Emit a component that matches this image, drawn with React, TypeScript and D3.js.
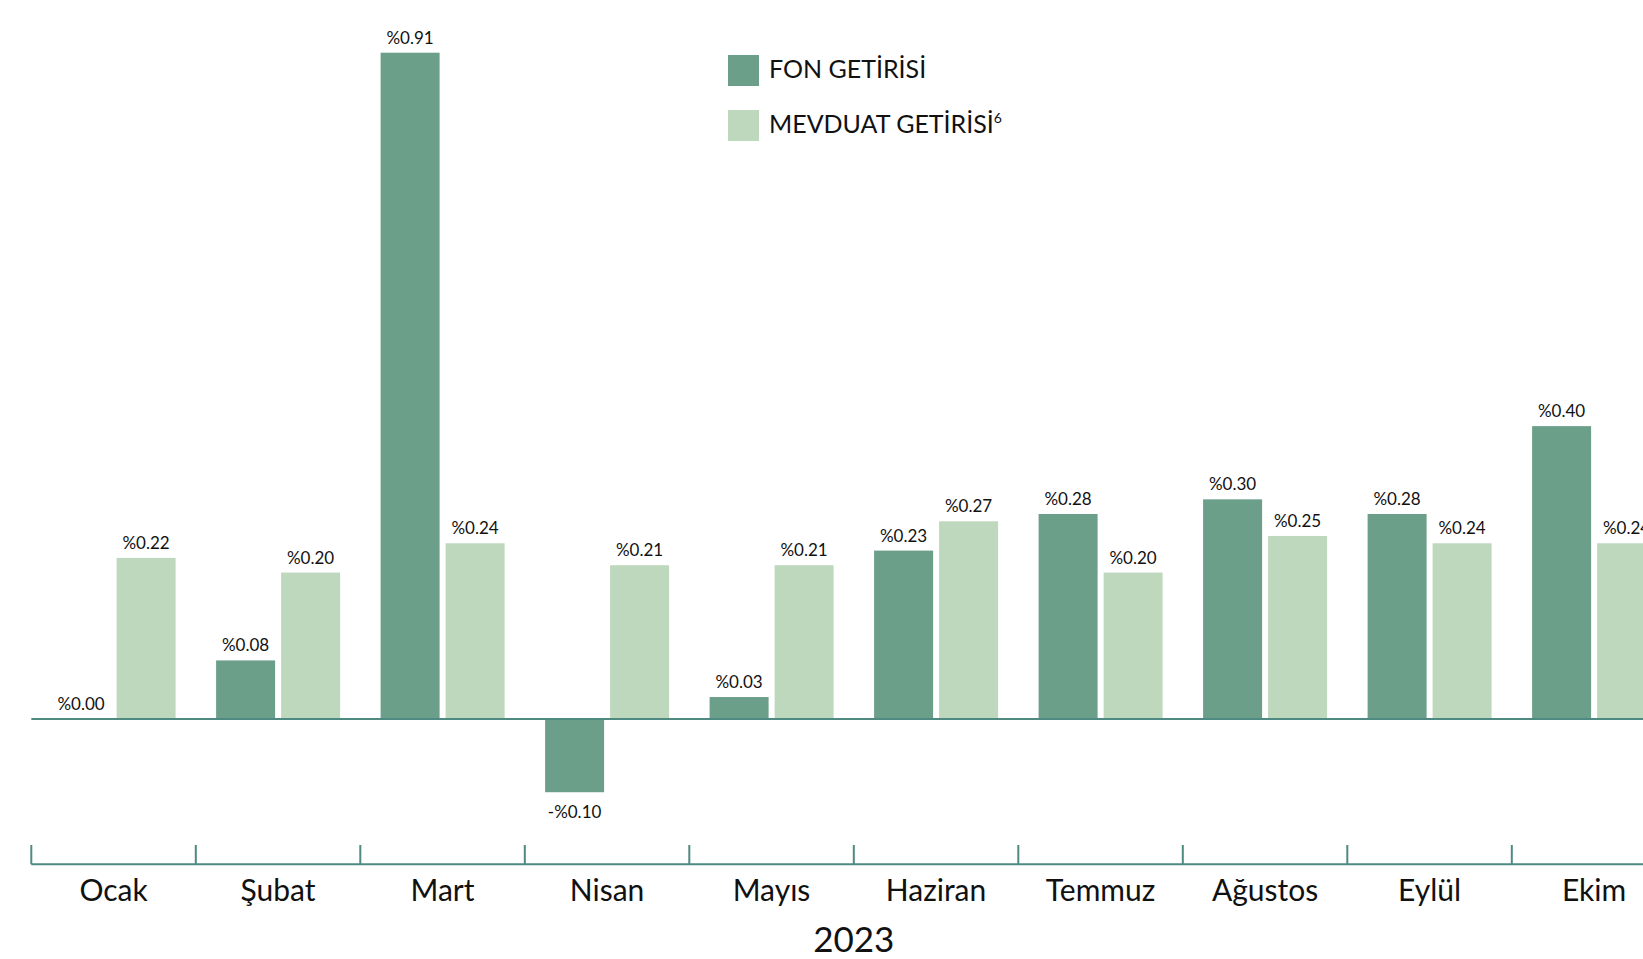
import React, { useEffect, useRef } from 'react';
import * as d3 from 'd3';

const months = ['Ocak', 'Şubat', 'Mart', 'Nisan', 'Mayıs', 'Haziran', 'Temmuz', 'Ağustos', 'Eylül', 'Ekim'];
const fonGetirisi = [0.0, 0.08, 0.91, -0.1, 0.03, 0.23, 0.28, 0.3, 0.28, 0.4];
const mevduatGetirisi = [0.22, 0.2, 0.24, 0.21, 0.21, 0.27, 0.2, 0.25, 0.24, 0.24];
const seriesNames = ['FON GETİRİSİ', 'MEVDUAT GETİRİSİ'];
const yearLabel = '2023';

const DARK = '#6b9f89';
const LIGHT = '#bdd8bc';
const AXIS = '#4f8a82';
const FONT = 'Lato, "Open Sans", sans-serif';

const fmt = (v: number) => (v < 0 ? '-%' : '%') + Math.abs(v).toFixed(2);

const App: React.FC = () => {
  const svgRef = useRef<SVGSVGElement | null>(null);

  useEffect(() => {
    const width = 1643;
    const height = 959;
    const svg = d3.select(svgRef.current).attr('width', width).attr('height', height);
    svg.selectAll('*').remove();

    // chart runs a bit past the right edge, like the original
    const x = d3.scaleBand<string>().domain(months).range([31.3, 31.3 + 164.5 * months.length]).padding(0);
    const inner = d3.scaleBand<string>().domain(['fon', 'mev']).range([20.3, 144.3]).paddingInner(0.0923).paddingOuter(0);
    const y = d3.scaleLinear().domain([0, 0.91]).range([719, 52.7]);

    const rows = months.map((m, i) => ({ month: m, fon: fonGetirisi[i], mev: mevduatGetirisi[i] }));

    const g = svg.append('g').style('font-family', FONT);

    const grp = g.selectAll('.month')
      .data(rows)
      .enter().append('g')
      .attr('class', 'month')
      .attr('transform', d => `translate(${x(d.month)},0)`);

    const bars = grp.selectAll('.bar')
      .data(d => [{ key: 'fon', v: d.fon }, { key: 'mev', v: d.mev }])
      .enter();

    bars.append('rect')
      .attr('x', d => inner(d.key)!)
      .attr('width', inner.bandwidth())
      .attr('y', d => y(Math.max(0, d.v)))
      .attr('height', d => Math.abs(y(d.v) - y(0)))
      .attr('fill', d => (d.key === 'fon' ? DARK : LIGHT));

    bars.append('text')
      .attr('x', d => inner(d.key)! + inner.bandwidth() / 2)
      .attr('y', d => (d.v < 0 ? y(d.v) + 26 : y(d.v) - 9))
      .attr('text-anchor', 'middle')
      .attr('font-size', 17)
      .attr('fill', '#111')
      .text(d => fmt(d.v));

    // zero line
    g.append('line')
      .attr('x1', 31.3).attr('x2', width)
      .attr('y1', y(0)).attr('y2', y(0))
      .attr('stroke', AXIS).attr('stroke-width', 2);

    // category axis
    const axisY = 864.3;
    g.append('line')
      .attr('x1', 31.3).attr('x2', width)
      .attr('y1', axisY).attr('y2', axisY)
      .attr('stroke', AXIS).attr('stroke-width', 2);

    g.selectAll('.tick')
      .data(months)
      .enter().append('line')
      .attr('x1', d => x(d)!).attr('x2', d => x(d)!)
      .attr('y1', 845).attr('y2', axisY)
      .attr('stroke', AXIS).attr('stroke-width', 2);

    g.selectAll('.mlabel')
      .data(months)
      .enter().append('text')
      .attr('x', d => x(d)! + x.bandwidth() / 2)
      .attr('y', 901)
      .attr('text-anchor', 'middle')
      .attr('font-size', 30)
      .attr('fill', '#111')
      .text(d => d);

    g.append('text')
      .attr('x', 31.3 + (164.5 * months.length) / 2)
      .attr('y', 951.5)
      .attr('text-anchor', 'middle')
      .attr('font-size', 35)
      .attr('fill', '#111')
      .text(yearLabel);

    // legend
    const legend = g.selectAll('.legend')
      .data(seriesNames)
      .enter().append('g')
      .attr('transform', (d, i) => `translate(728,${55 + i * 55})`);

    legend.append('rect')
      .attr('width', 31).attr('height', 31)
      .attr('fill', (d, i) => (i === 0 ? DARK : LIGHT));

    const lt = legend.append('text')
      .attr('x', 41)
      .attr('y', 23)
      .attr('font-size', 25)
      .attr('fill', '#111')
      .text(d => d);

    lt.filter((d, i) => i === 1)
      .append('tspan')
      .attr('font-size', 14)
      .attr('dy', -10)
      .text('6');
  }, []);

  return <svg ref={svgRef} style={{ position: 'absolute', left: 0, top: 0 }}></svg>;
};

export default App;
